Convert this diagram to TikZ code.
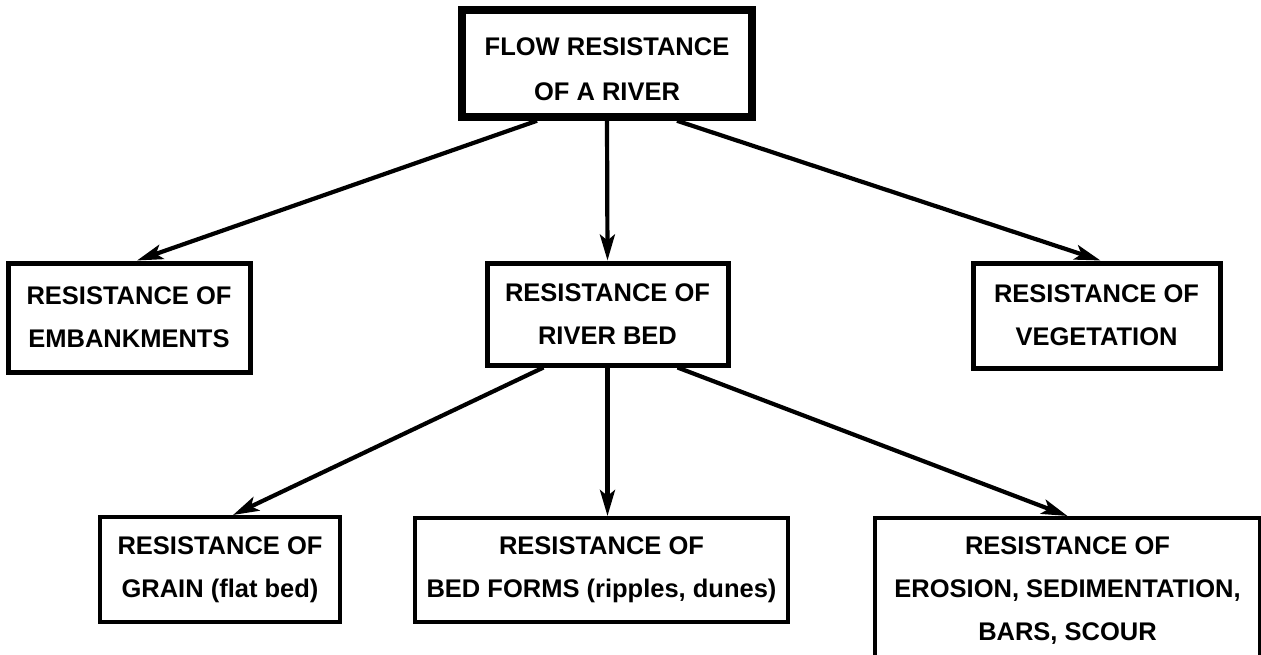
\documentclass[tikz,border=0pt]{standalone}
\usepackage{fontspec}
\setmainfont{Liberation Sans}
\usetikzlibrary{arrows.meta}
\tikzset{
  box/.style={draw=black, fill=white, line width=5pt, inner sep=0pt, align=center,
    font=\fontsize{25.5}{43}\selectfont\bfseries},
  topbox/.style={box, line width=7.5pt, font=\fontsize{25.5}{45}\selectfont\bfseries},
  lowbox/.style={box, line width=4pt},
  conn/.style={line width=4.2pt, -{Stealth[length=26pt,width=15pt,inset=6pt]}}
}
\begin{document}
\begin{tikzpicture}[x=1pt,y=-1pt]
\useasboundingbox (0,0) rectangle (1261,655);
\begin{scope}
\clip (0,0) rectangle (1261,655);
\node[topbox, minimum width=290pt, minimum height=107pt] (top) at (607,63.5) {\rule{0pt}{30pt}FLOW RESISTANCE\\OF A RIVER};
\node[box, minimum width=242pt, minimum height=109pt] (emb) at (129,317.5) {RESISTANCE OF\\EMBANKMENTS};
\node[box, minimum width=241pt, minimum height=102pt] (bed) at (607.5,314) {RESISTANCE OF\\RIVER BED};
\node[box, minimum width=247pt, minimum height=105pt] (veg) at (1096.5,315.5) {RESISTANCE OF\\VEGETATION};
\node[lowbox, minimum width=240pt, minimum height=105pt] (grain) at (220,569.5) {RESISTANCE OF\\GRAIN (flat bed)};
\node[lowbox, minimum width=373pt, minimum height=104pt] (forms) at (601.5,570) {RESISTANCE OF\\BED FORMS (ripples, dunes)};
\node[lowbox, minimum width=385pt, minimum height=146pt] (eros) at (1067.5,591) {RESISTANCE OF\\EROSION, SEDIMENTATION,\\BARS, SCOUR};
\end{scope}
\draw[conn] ([xshift=-70pt]top.south) -- ([xshift=8pt]emb.north);
\draw[conn] (top.south) -- (bed.north);
\draw[conn] ([xshift=70pt]top.south) -- ([xshift=4pt]veg.north);
\draw[conn] ([xshift=-64pt]bed.south) -- ([xshift=13pt]grain.north);
\draw[conn] (bed.south) -- ([xshift=6pt]forms.north);
\draw[conn] ([xshift=70pt]bed.south) -- (eros.north);
\end{tikzpicture}
\end{document}
